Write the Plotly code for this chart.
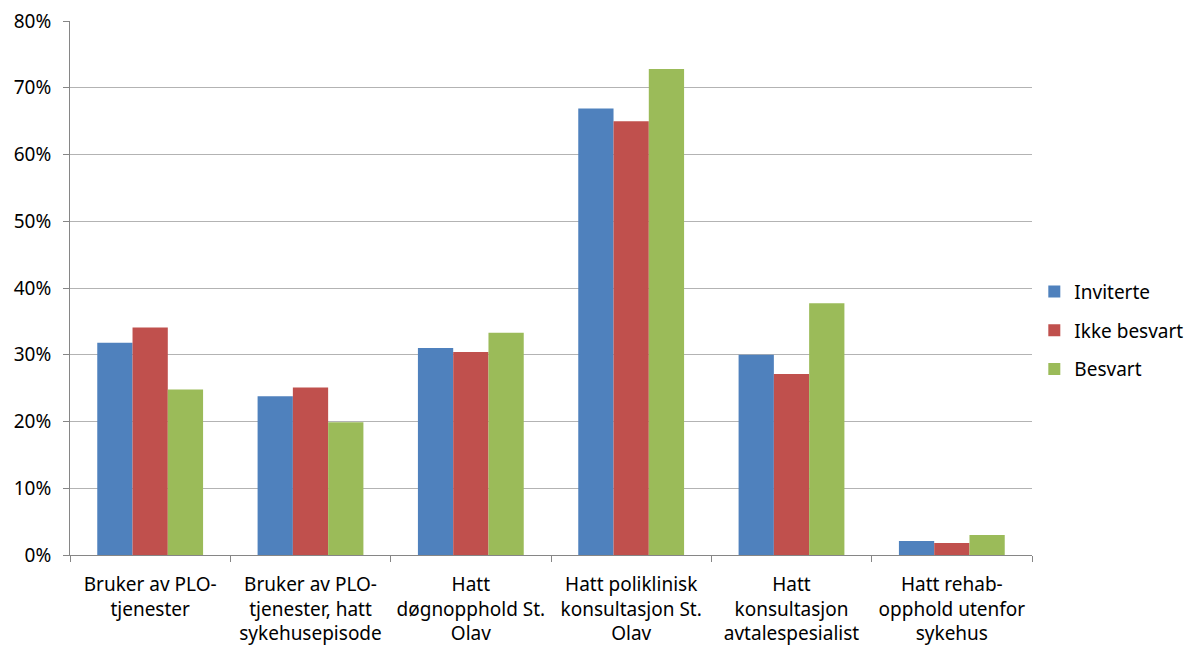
import plotly.graph_objects as go

categories = [
    "Bruker av PLO-<br>tjenester",
    "Bruker av PLO-<br>tjenester, hatt<br>sykehusepisode",
    "Hatt<br>døgnopphold St.<br>Olav",
    "Hatt poliklinisk<br>konsultasjon St.<br>Olav",
    "Hatt<br>konsultasjon<br>avtalespesialist",
    "Hatt rehab-<br>opphold utenfor<br>sykehus",
]
inviterte = [0.318, 0.238, 0.310, 0.669, 0.300, 0.021]
ikke_besvart = [0.341, 0.251, 0.304, 0.650, 0.271, 0.018]
besvart = [0.248, 0.199, 0.333, 0.728, 0.377, 0.030]
y_ticks = [0.0, 0.1, 0.2, 0.3, 0.4, 0.5, 0.6, 0.7, 0.8]

series = [
    ("Inviterte", inviterte, "#4F81BD"),
    ("Ikke besvart", ikke_besvart, "#C0504D"),
    ("Besvart", besvart, "#9BBB59"),
]

font_family = "Noto Sans, Open Sans, sans-serif"

fig = go.Figure()
for name, vals, color in series:
    fig.add_trace(go.Bar(
        x=categories, y=vals, name=name, legendgroup=name,
        marker=dict(color=color, line=dict(width=0)),
    ))

fig.update_layout(
    width=1192, height=648,
    margin=dict(l=62, r=168, t=13, b=101),
    paper_bgcolor="white", plot_bgcolor="white",
    barmode="group", bargap=0.34, bargroupgap=0,
    font=dict(family=font_family, size=19, color="#000000"),
    showlegend=True,
    legend=dict(xref="container", x=0.861, xanchor="left",
                y=0.42, yanchor="middle",
                font=dict(size=19), tracegroupgap=11,
                traceorder="grouped", bgcolor="rgba(0,0,0,0)"),
    xaxis=dict(
        showline=True, linecolor="#868686", linewidth=1,
        ticks="outside", tickson="boundaries", ticklen=6, tickcolor="#868686",
        showgrid=False, tickfont=dict(size=19), automargin=False,
        ticklabelstandoff=12, ticklabeloverflow="allow",
    ),
    yaxis=dict(
        range=[0, 0.8], tickmode="array", tickvals=y_ticks, tickformat=".0%",
        showline=True, linecolor="#868686", linewidth=1,
        ticks="outside", ticklen=6, tickcolor="#868686",
        showgrid=True, gridcolor="#B3B3B3", gridwidth=1,
        zeroline=False, tickfont=dict(size=19), automargin=False,
        ticklabelstandoff=8, ticklabeloverflow="allow",
    ),
)

fig.write_html("out.html")
